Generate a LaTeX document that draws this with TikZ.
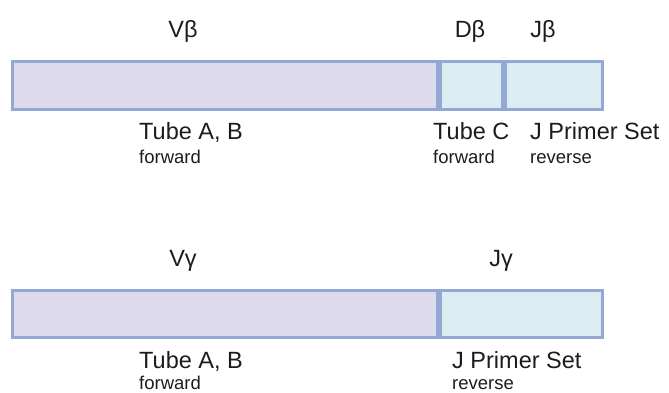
\documentclass[tikz,border=0pt]{standalone}
\usepackage{fontspec}
\setmainfont{Liberation Sans}
\definecolor{vfill}{RGB}{221,218,237}
\definecolor{jfill}{RGB}{218,238,242}
\definecolor{segline}{RGB}{148,168,214}
\definecolor{ink}{RGB}{28,28,28}
\tikzset{
  seg/.style={draw=segline, line width=3pt, anchor=north west, inner sep=0pt, outer sep=0pt},
  vseg/.style={seg, fill=vfill},
  jseg/.style={seg, fill=jfill},
  big/.style={text=ink, font=\fontsize{23.5}{26}\selectfont, inner sep=0pt},
  small/.style={text=ink, font=\fontsize{18.5}{21}\selectfont, inner sep=0pt}
}
\begin{document}
\begin{tikzpicture}[x=1pt,y=-1pt]
\useasboundingbox (0,0) rectangle (669,392);

% beta chain segments
\node[vseg, minimum width=425pt, minimum height=48pt] (vb) at (12,61) {};
\node[jseg, minimum width=62pt, minimum height=48pt] (db) at (440,61) {};
\node[jseg, minimum width=97pt, minimum height=48pt] (jb) at (505.5,61) {};

\node[big, anchor=base] (lvb) at (183,37) {Vβ};
\node[big, anchor=base] (ldb) at (470,37) {Dβ};
\node[big, anchor=base] (ljb) at (543,37) {Jβ};

\node[big, anchor=base west] (tab1) at (139,139) {Tube A, B};
\node[small, anchor=base west] (fw1) at (139,163) {forward};
\node[big, anchor=base west] (tc) at (433,139) {Tube C};
\node[small, anchor=base west] (fw2) at (433,163) {forward};
\node[big, anchor=base west] (jps1) at (530,139) {J Primer Set};
\node[small, anchor=base west] (rv1) at (530,163) {reverse};

% gamma chain segments
\node[vseg, minimum width=425pt, minimum height=47pt] (vg) at (12,290) {};
\node[jseg, minimum width=162.5pt, minimum height=47pt] (jg) at (440,290) {};

\node[big, anchor=base] (lvg) at (183,266) {Vγ};
\node[big, anchor=base] (ljg) at (501,266) {Jγ};

\node[big, anchor=base west] (tab2) at (139,368) {Tube A, B};
\node[small, anchor=base west] (fw3) at (139,389) {forward};
\node[big, anchor=base west] (jps2) at (452,368) {J Primer Set};
\node[small, anchor=base west] (rv2) at (452,389) {reverse};
\end{tikzpicture}
\end{document}
